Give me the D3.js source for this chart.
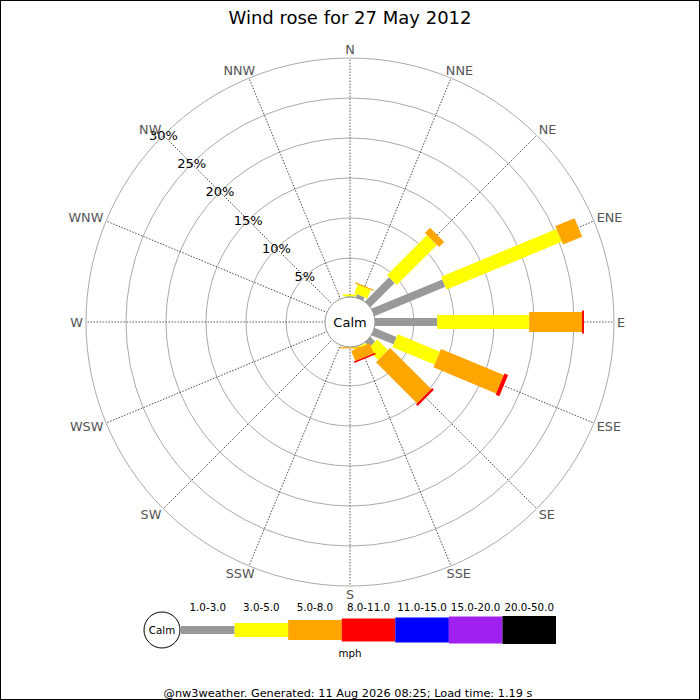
<!DOCTYPE html>
<html>
<head>
<meta charset="utf-8">
<script src="https://cdn.jsdelivr.net/npm/d3@7"></script>
<style>
  html, body { margin: 0; padding: 0; background: #fff; }
  svg { display: block; }
</style>
</head>
<body>
<div id="chart"></div>
<script>
// --- data (percent of time per direction, per speed class) ---
const directions = ['N', 'NNE', 'NE', 'ENE', 'E', 'ESE', 'SE', 'SSE',
  'S', 'SSW', 'SW', 'WSW', 'W', 'WNW', 'NW', 'NNW'];
const speedBins = ['1.0-3.0', '3.0-5.0', '5.0-8.0', '8.0-11.0', '11.0-15.0', '15.0-20.0', '20.0-50.0'];
const binColors = ['#999999', '#ffff00', '#ffa500', '#ff0000', '#0000ff', '#a020f0', '#000000'];

const speed1to3   = [0.2, 0.55, 4.4, 9.7, 7.9, 3.1, 0.95, 0.2, 0.05, 0, 0, 0, 0, 0, 0, 0];
const speed3to5   = [0.25, 1.15, 7.1, 15.6, 11.5, 5.7, 1.9, 0.2, 0.1, 0, 0, 0, 0, 0, 0, 0];
const speed5to8   = [0, 0.15, 0.9, 2.6, 6.6, 8.5, 7.25, 1.35, 0.15, 0, 0, 0, 0, 0, 0, 0];
const speed8to11  = [0, 0, 0, 0, 0.25, 0.5, 0.3, 0.2, 0, 0, 0, 0, 0, 0, 0, 0];
const speed11to15 = [0, 0, 0, 0, 0, 0, 0, 0, 0, 0, 0, 0, 0, 0, 0, 0];
const speed15to20 = [0, 0, 0, 0, 0, 0, 0, 0, 0, 0, 0, 0, 0, 0, 0, 0];
const speed20to50 = [0, 0, 0, 0, 0, 0, 0, 0, 0, 0, 0, 0, 0, 0, 0, 0];
const series = [speed1to3, speed3to5, speed5to8, speed8to11, speed11to15, speed15to20, speed20to50];

const ringTicks = [5, 10, 15, 20, 25, 30];
const title = 'Wind rose for 27 May 2012';
const footer = '@nw3weather. Generated: 11 Aug 2026 08:25; Load time: 1.19 s';

// --- layout ---
const W = 700, H = 700;
const cx = 350, cy = 322;
const FONT = 'DejaVu Sans, sans-serif';
const barWidths = [8, 14, 20, 23, 25, 27, 28];

const svg = d3.select('#chart').append('svg')
  .attr('width', W).attr('height', H)
  .attr('font-family', FONT);

svg.append('rect')
  .attr('x', 0.5).attr('y', 0.5)
  .attr('width', W - 1).attr('height', H - 1)
  .attr('fill', '#fff').attr('stroke', '#000');

svg.append('text')
  .attr('x', W / 2).attr('y', 24)
  .attr('text-anchor', 'middle')
  .attr('font-size', 18)
  .text(title);

const r = d3.scaleLinear().domain([0, 30]).range([24, 264]);
const angle = d3.scaleBand().domain(directions).range([0, 360]);
const deg = d => angle(d);  // N at 0, clockwise

const g = svg.append('g').attr('transform', `translate(${cx},${cy})`);

// rings
g.append('g').selectAll('circle')
  .data(ringTicks)
  .join('circle')
  .attr('r', d => r(d))
  .attr('fill', 'none')
  .attr('stroke', '#aaa')
  .attr('stroke-width', 1);

// spokes
g.append('g').selectAll('line')
  .data(directions)
  .join('line')
  .attr('transform', d => `rotate(${deg(d)})`)
  .attr('x1', 0).attr('x2', 0)
  .attr('y1', -r(0)).attr('y2', -r(30))
  .attr('stroke', '#333')
  .attr('stroke-width', 0.8)
  .attr('stroke-dasharray', '1.5,1.5');

// stacked bars
const stacks = directions.map((d, i) => {
  let acc = 0;
  return series.map((s, k) => {
    const start = acc;
    acc += s[i];
    return { dir: d, k, start, end: acc };
  }).filter(e => e.end > e.start);
});

const barLayer = g.append('g');
stacks.forEach(segs => {
  if (!segs.length) return;
  barLayer.append('g')
    .attr('transform', `rotate(${deg(segs[0].dir)})`)
    .selectAll('rect')
    .data(segs)
    .join('rect')
    .attr('x', e => -barWidths[e.k] / 2)
    .attr('width', e => barWidths[e.k])
    .attr('y', e => -r(e.end))
    .attr('height', e => r(e.end) - r(e.start))
    .attr('fill', e => binColors[e.k]);
});

// calm circle
g.append('circle')
  .attr('r', 25)
  .attr('fill', '#fff')
  .attr('stroke', '#999')
  .attr('stroke-width', 1);
g.append('text')
  .attr('text-anchor', 'middle')
  .attr('dominant-baseline', 'central')
  .attr('font-size', 13)
  .text('Calm');

// percentage labels along NW spoke
const nw = deg('NW') * Math.PI / 180;
g.append('g').selectAll('text')
  .data(ringTicks)
  .join('text')
  .attr('x', d => r(d) * Math.sin(nw))
  .attr('y', d => -r(d) * Math.cos(nw))
  .attr('text-anchor', 'middle')
  .attr('dominant-baseline', 'central')
  .attr('font-size', 13)
  .text(d => d + '%');

// direction labels: pushed outward by half their box
g.append('g').selectAll('text')
  .data(directions)
  .join('text')
  .attr('text-anchor', 'middle')
  .attr('dominant-baseline', 'central')
  .attr('font-size', 12.8)
  .attr('fill', '#555')
  .text(d => d)
  .each(function (d) {
    const a = deg(d) * Math.PI / 180;
    const w = this.getComputedTextLength();
    const s = Math.sin(a), c = Math.cos(a);
    const fx = Math.max(-1, Math.min(1, 1.4 * s));
    d3.select(this)
      .attr('x', 267 * s + (w / 2) * fx)
      .attr('y', -267 * c - 5.5 * c);
  });

// legend
const legY = 630;
const legX = d3.scaleBand().domain(speedBins).range([181, 556]);
const leg = svg.append('g').attr('font-size', 10.3);

leg.append('circle')
  .attr('cx', 162).attr('cy', legY).attr('r', 18)
  .attr('fill', '#fff').attr('stroke', '#000');
leg.append('text')
  .attr('x', 162).attr('y', legY)
  .attr('text-anchor', 'middle')
  .attr('dominant-baseline', 'central')
  .text('Calm');

leg.selectAll('rect.bin')
  .data(speedBins)
  .join('rect')
  .attr('class', 'bin')
  .attr('x', d => legX(d))
  .attr('width', legX.bandwidth())
  .attr('y', (d, i) => legY - barWidths[i] / 2)
  .attr('height', (d, i) => barWidths[i])
  .attr('fill', (d, i) => binColors[i]);

leg.selectAll('text.bin')
  .data(speedBins)
  .join('text')
  .attr('class', 'bin')
  .attr('x', d => legX(d) + legX.bandwidth() / 2)
  .attr('y', 611)
  .attr('text-anchor', 'middle')
  .text(d => d);

leg.append('text')
  .attr('x', 350).attr('y', 657)
  .attr('text-anchor', 'middle')
  .text('mph');

svg.append('text')
  .attr('x', 348).attr('y', 697)
  .attr('text-anchor', 'middle')
  .attr('font-size', 11.3)
  .text(footer);
</script>
</body>
</html>
